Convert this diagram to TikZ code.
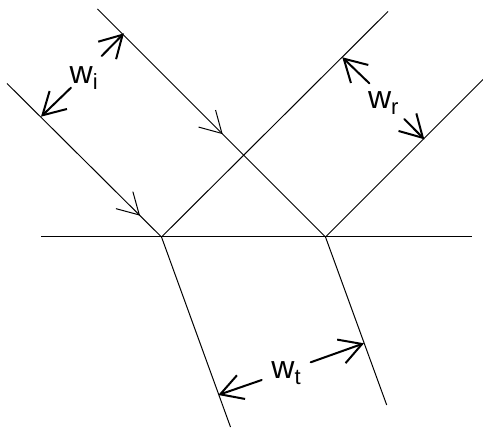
\documentclass[tikz,border=0pt]{standalone}
\usepackage{fontspec}
\setmainfont{Liberation Sans}
\usetikzlibrary{arrows.meta,decorations.markings}
\tikzset{
  ray/.style={line width=1pt, black},
  widtharrow/.style={line width=2pt, line cap=round, -{Straight Barb[length=22pt,width=25pt]}},
  midarrow/.style={decoration={markings, mark=at position #1 with {\arrow{Straight Barb[length=21pt,width=24pt]}}}, postaction={decorate}},
  lbl/.style={inner sep=0pt, anchor=base west}
}
\newcommand{\wlabel}[1]{\fontsize{32}{32}\selectfont w\raisebox{-6.5pt}{\fontsize{22}{22}\selectfont #1}}
\begin{document}
\begin{tikzpicture}[x=1pt,y=-1pt]
\useasboundingbox (0,0) rectangle (483,428);
% surface and incidence points
\coordinate (L) at (41,237);
\coordinate (R) at (472,237);
\coordinate (A) at (161.5,237);
\coordinate (B) at (325.5,237);
% ray ends
\coordinate (i1) at (7,83.5);
\coordinate (i2) at (97.5,9);
\coordinate (r1) at (388,11.5);
\coordinate (r2) at (483,79.5);
\coordinate (t1) at (230.5,427);
\coordinate (t2) at (386.7,405);
\draw[ray] (L) -- (R);
\draw[ray, midarrow=0.861] (i1) -- (A);
\draw[ray, midarrow=0.549] (i2) -- (B);
\draw[ray] (A) -- (r1);
\draw[ray] (B) -- (r2);
\draw[ray] (A) -- (t1);
\draw[ray] (B) -- (t2);
% width arrows
\coordinate (wia) at (41,116.7);  \coordinate (wias) at (71,87.7);
\coordinate (wib) at (124,33.3);  \coordinate (wibs) at (101.7,56);
\coordinate (wra) at (342.3,57.3); \coordinate (wras) at (369.3,83.3);
\coordinate (wrb) at (424.3,139.3); \coordinate (wrbs) at (404.3,119);
\coordinate (wta) at (218.3,395); \coordinate (wtas) at (261.7,380);
\coordinate (wtb) at (364,343.3); \coordinate (wtbs) at (310.7,362.3);
\draw[widtharrow] (wias) -- (wia);
\draw[widtharrow] (wibs) -- (wib);
\draw[widtharrow] (wras) -- (wra);
\draw[widtharrow] (wrbs) -- (wrb);
\draw[widtharrow] (wtas) -- (wta);
\draw[widtharrow] (wtbs) -- (wtb);
% labels
\node[lbl] (li) at (69.5,83.3) {\wlabel{i}};
\node[lbl] (lr) at (367.8,108.3) {\wlabel{r}};
\node[lbl] (lt) at (271.2,378.3) {\wlabel{t}};
\end{tikzpicture}
\end{document}
